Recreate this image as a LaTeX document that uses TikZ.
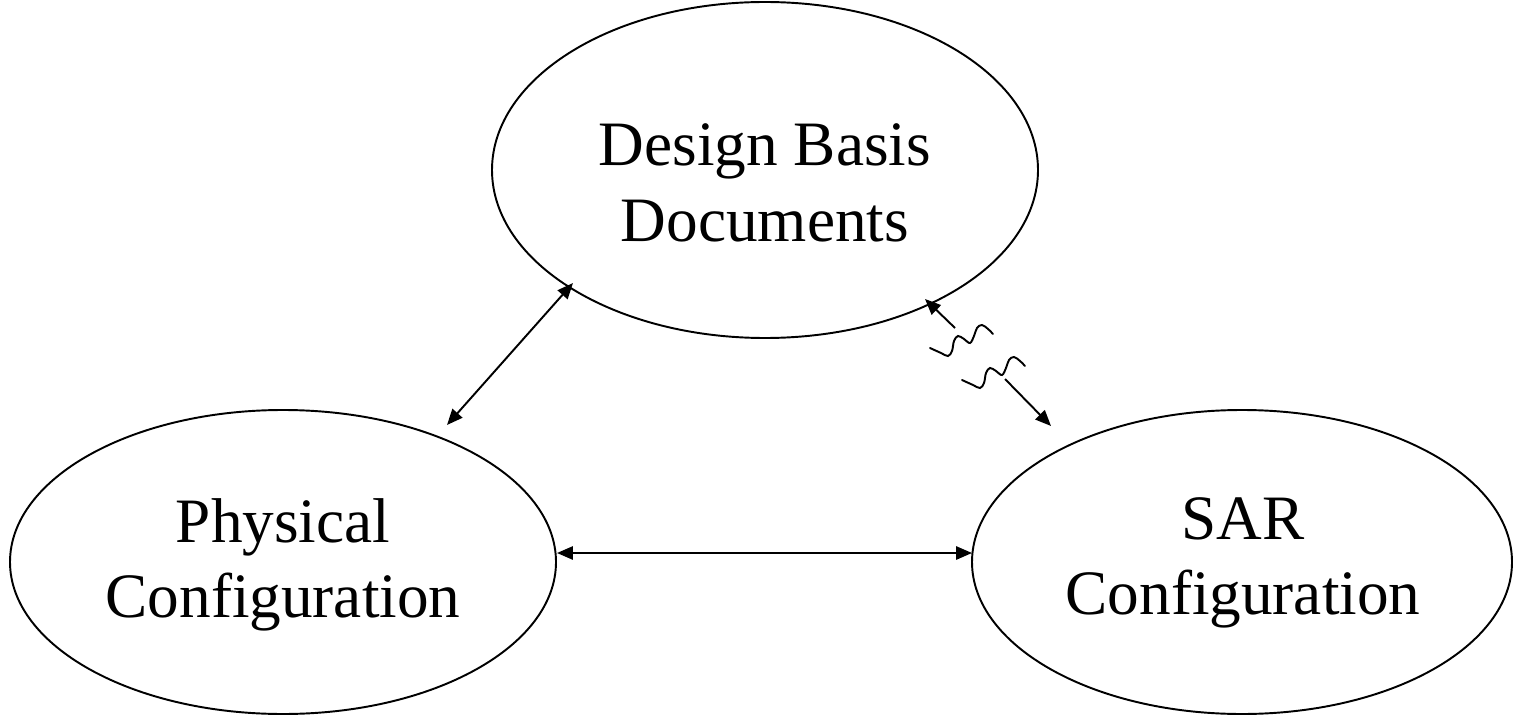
\documentclass[tikz,border=0pt]{standalone}
\usepackage{fontspec}
\setmainfont{Liberation Serif}
\usetikzlibrary{arrows.meta}
\begin{document}
\begin{tikzpicture}[x=0.02cm,y=-0.02cm,
  lbl/.style={align=center,font=\fontsize{36}{43}\selectfont},
  link/.style={line width=1.1pt,{Triangle[length=9pt,width=7.5pt]}-{Triangle[length=9pt,width=7.5pt]}},
  half/.style={line width=1.1pt,-{Triangle[length=9pt,width=7.5pt]}},
  wave/.style={line width=1.1pt,line cap=round}]
\useasboundingbox (0,0) rectangle (1514,716);
\draw[line width=1.1pt] (765,170) ellipse [x radius=273, y radius=168];
\draw[line width=1.1pt] (283,562) ellipse [x radius=273, y radius=152];
\draw[line width=1.1pt] (1242,562) ellipse [x radius=270, y radius=152];
\node[lbl] (top) at (765,183) {Design Basis\\Documents};
\node[lbl] (left) at (283,565) {Physical\\Configuration};
\node[lbl] (right) at (1243,563) {SAR\\Configuration};
\coordinate (a1) at (447,425);
\coordinate (a2) at (573,283);
\draw[link] (a1) -- (a2);
\coordinate (b1) at (557,553);
\coordinate (b2) at (972,553);
\draw[link] (b1) -- (b2);
\coordinate (c1) at (955,328);
\coordinate (c2) at (925,299);
\draw[half] (c1) -- (c2);
\coordinate (d1) at (1005,379);
\coordinate (d2) at (1051,426);
\draw[half] (d1) -- (d2);
\foreach \dx/\dy in {0/0,32/32}{
  \begin{scope}[shift={(\dx,\dy)}]
  \draw[wave] plot[smooth,tension=0.6] coordinates {(930,348) (941,353) (948,356) (952,351) (954,341) (958,336) (964,339) (970,343) (974,336) (977,328) (982,325) (988,329) (993,334)};
  \end{scope}}
\end{tikzpicture}
\end{document}
